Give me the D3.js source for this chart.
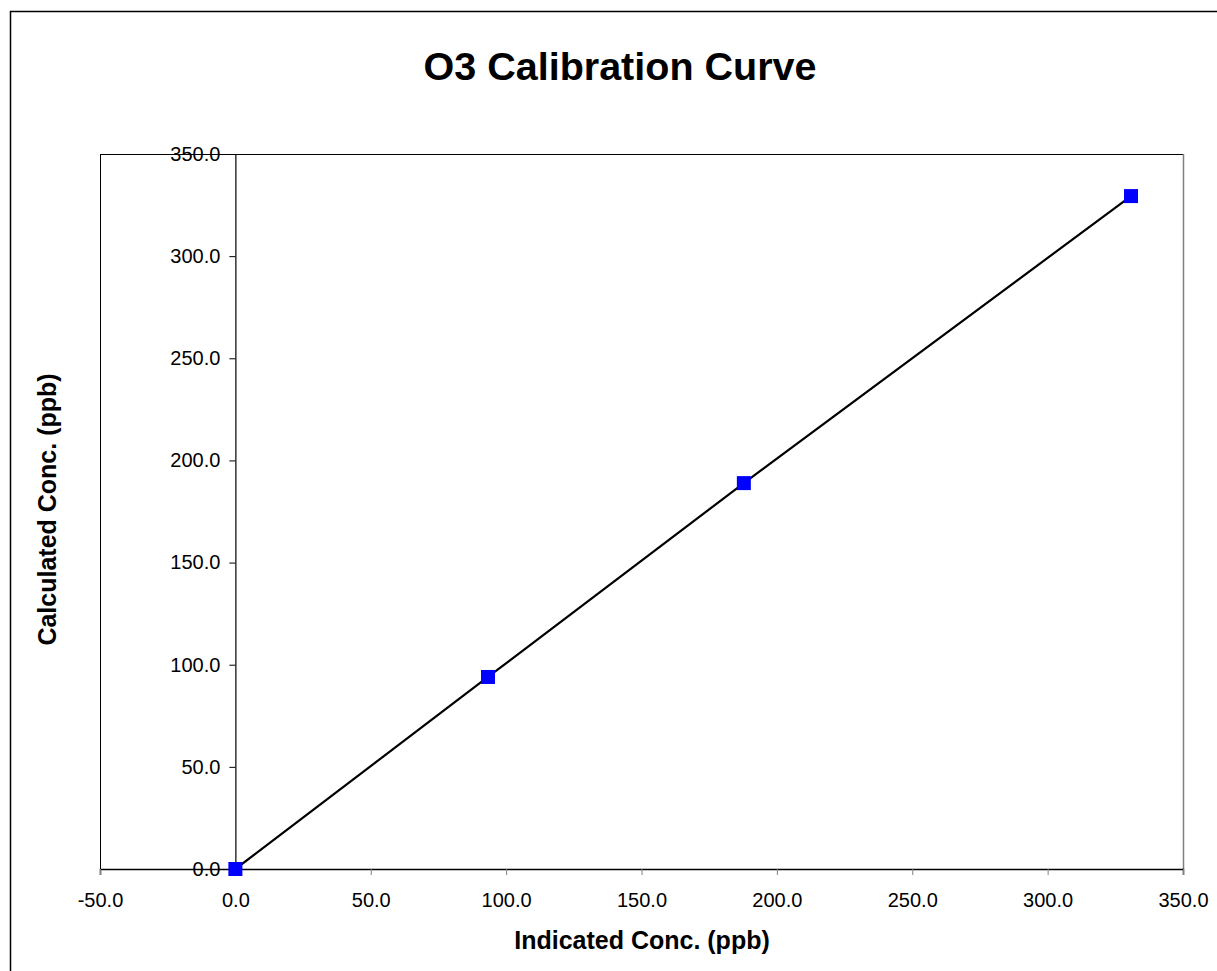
<!DOCTYPE html>
<html><head><meta charset="utf-8">
<script src="https://cdn.jsdelivr.net/npm/d3@7"></script>
<style>body{margin:0;background:#fff;}svg{display:block;font-family:"Liberation Sans",Arial,sans-serif;}</style>
</head><body>
<script>
const title = "O3 Calibration Curve";
const xLabel = "Indicated Conc. (ppb)";
const yLabel = "Calculated Conc. (ppb)";
const indicated = [0.0, 93.3, 187.8, 330.8];
const calculated = [0.0, 94.0, 188.9, 329.4];
const xTicks = [-50, 0, 50, 100, 150, 200, 250, 300, 350];
const yTicks = [0, 50, 100, 150, 200, 250, 300, 350];

const W = 1217, H = 971;
const fmt = d => d.toFixed(1);
const svg = d3.select("body").append("svg").attr("width", W).attr("height", H);
svg.append("rect").attr("x", 10.5).attr("y", 11.5).attr("width", W + 20).attr("height", H + 20)
  .attr("fill", "#fff").attr("stroke", "#000").attr("stroke-width", 1.5);

const L = 100, R = 1183, T = 154, B = 869;
const x = d3.scaleLinear().domain([-50, 350]).range([L, R]);
const y = d3.scaleLinear().domain([0, 350]).range([B, T]);

// plot frame
svg.append("line").attr("x1", L + 0.5).attr("x2", L + 0.5).attr("y1", T).attr("y2", B).attr("stroke", "#000");
svg.append("line").attr("x1", L).attr("x2", R).attr("y1", T + 0.5).attr("y2", T + 0.5).attr("stroke", "#000");
svg.append("line").attr("x1", R + 0.5).attr("x2", R + 0.5).attr("y1", T).attr("y2", B).attr("stroke", "#808080").attr("stroke-width", 1.5);

// x axis at y=0
const xAxis = d3.axisBottom(x).tickValues(xTicks).tickFormat(fmt).tickSize(6).tickPadding(18);
const gx = svg.append("g").attr("transform", `translate(0,${B})`).call(xAxis);
gx.select(".domain").attr("stroke", "#000").attr("stroke-width", 1.5);
gx.selectAll(".tick line").attr("stroke", "#808080");
gx.selectAll("text").attr("font-size", 20).attr("fill", "#000").attr("font-family", "Liberation Sans, Arial, sans-serif");

// y axis at x=0
const yAxis = d3.axisLeft(y).tickValues(yTicks).tickFormat(fmt).tickSize(6).tickPadding(9);
const gy = svg.append("g").attr("transform", `translate(${x(0)},0)`).call(yAxis);
gy.select(".domain").attr("stroke", "#000").attr("stroke-width", 1.2);
gy.selectAll(".tick line").attr("stroke", "#000");
gy.selectAll("text").attr("font-size", 20).attr("fill", "#000").attr("font-family", "Liberation Sans, Arial, sans-serif");

// line
const pts = indicated.map((v, i) => [v, calculated[i]]);
svg.append("path").datum(pts)
  .attr("d", d3.line().x(d => x(d[0])).y(d => y(d[1])))
  .attr("fill", "none").attr("stroke", "#000").attr("stroke-width", 2.2);

// markers
const s = 14;
svg.selectAll("rect.pt").data(pts).enter().append("rect").attr("class", "pt")
  .attr("x", d => x(d[0]) - s / 2).attr("y", d => y(d[1]) - s / 2)
  .attr("width", s).attr("height", s).attr("fill", "#0000ff");

// titles
svg.append("text").attr("x", 620).attr("y", 80).attr("text-anchor", "middle")
  .attr("font-size", 39.5).attr("font-weight", "bold").text(title);
svg.append("text").attr("x", 642).attr("y", 949).attr("text-anchor", "middle")
  .attr("font-size", 25).attr("font-weight", "bold").text(xLabel);
svg.append("text").attr("transform", `translate(56,${(T + B) / 2 - 2}) rotate(-90)`).attr("text-anchor", "middle")
  .attr("font-size", 25).attr("font-weight", "bold").text(yLabel);
</script>
</body></html>
